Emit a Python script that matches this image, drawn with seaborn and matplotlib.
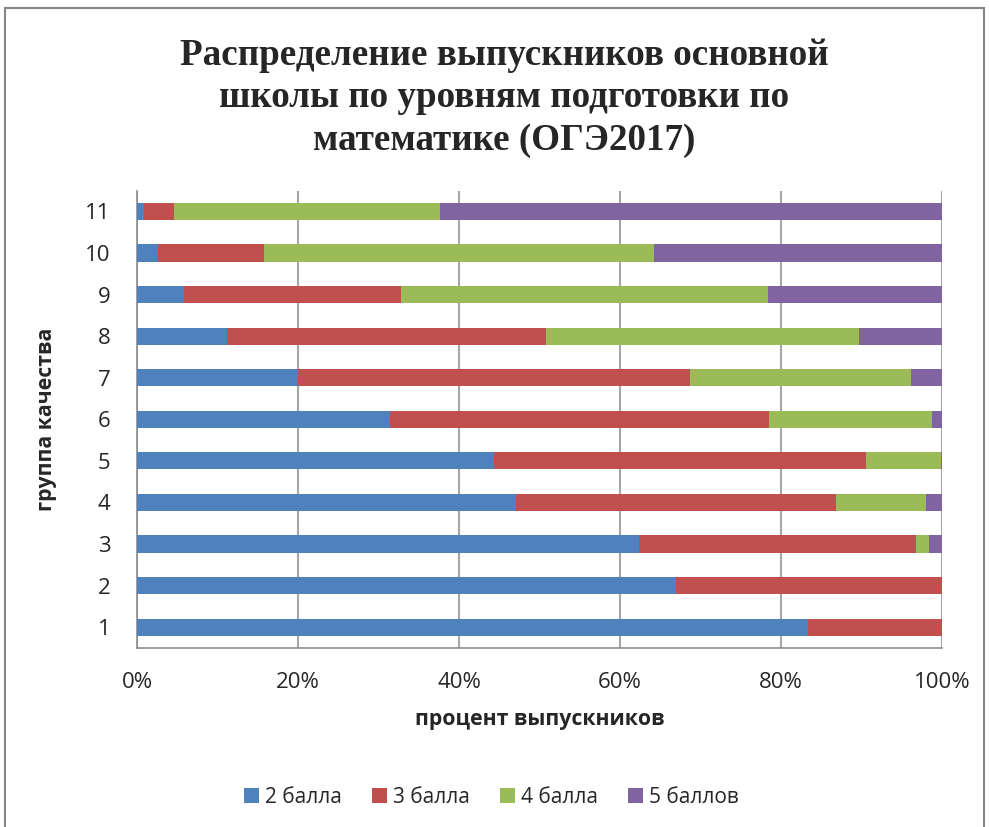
import numpy as np
import pandas as pd
import matplotlib
matplotlib.use("Agg")
import matplotlib.pyplot as plt
import seaborn as sns
from matplotlib.patches import Rectangle, Patch

# Data (percent of graduates per quality group)
groups = ["1", "2", "3", "4", "5", "6", "7", "8", "9", "10", "11"]
ball2 = [83.3, 66.9, 62.4, 47.1, 44.3, 31.4, 20.0, 11.2, 5.8, 2.6, 0.9]
ball3 = [16.7, 33.1, 34.4, 39.7, 46.3, 47.1, 48.7, 39.6, 27.0, 13.2, 3.7]
ball4 = [0.0, 0.0, 1.6, 11.2, 9.25, 20.3, 27.4, 38.9, 45.6, 48.4, 33.0]
ball5 = [0.0, 0.0, 1.6, 2.0, 0.15, 1.2, 3.9, 10.3, 21.6, 35.8, 62.4]
series = ["2 балла", "3 балла", "4 балла", "5 баллов"]
colors = ["#4F81BD", "#C0504D", "#9BBB59", "#8064A2"]

df = pd.DataFrame({"group": groups, series[0]: ball2, series[1]: ball3,
                   series[2]: ball4, series[3]: ball5})
# normalise each row to 100% like a 100% stacked bar
vals = df[series]
vals = vals.div(vals.sum(axis=1), axis=0) * 100
cum = vals.cumsum(axis=1)
cum["group"] = df["group"]

sns.set_style("white")
plt.rcParams["font.family"] = ["Open Sans", "DejaVu Sans"]

fig = plt.figure(figsize=(9.89, 8.27), dpi=100)
ax = fig.add_axes([0.1385, 0.2165, 0.814, 0.553])

order = groups[::-1]
# draw cumulative totals back to front so each segment shows its own part
for name, col in reversed(list(zip(series, colors))):
    sns.barplot(data=cum, x=name, y="group", order=order, color=col,
                width=0.41, orient="h", ax=ax, saturation=1, linewidth=0,
                zorder=3)

ax.set_xlim(0, 100)
ax.set_ylim(len(groups) - 0.5, -0.5)
ax.set_xticks(np.arange(0, 101, 20))
ax.set_xticklabels([f"{t}%" for t in range(0, 101, 20)], fontsize=16)
ax.tick_params(axis="y", labelsize=16, length=0, pad=19)
ax.tick_params(axis="x", length=6, color="#8C8C8C", pad=11, direction="out")
ax.set_yticks(np.arange(-0.5, len(groups)), minor=True)
ax.tick_params(axis="y", which="minor", length=6, color="#8C8C8C", direction="out")
ax.xaxis.grid(True, color="#A6A6A6", linewidth=1.5, zorder=0)
ax.set_axisbelow(True)
for s in ["top", "right"]:
    ax.spines[s].set_visible(False)
for s in ["left", "bottom"]:
    ax.spines[s].set_color("#8C8C8C")
    ax.spines[s].set_linewidth(1.2)

ax.set_xlabel("процент выпускников", fontsize=15.3, fontweight="bold", labelpad=12)
ax.set_ylabel("группа качества", fontsize=15.3, fontweight="bold", labelpad=20)

fig.text(0.51, 0.8815, "Распределение выпускников основной\nшколы по уровням подготовки по\nматематике (ОГЭ2017)",
         ha="center", va="center", fontsize=26.7, fontweight="bold",
         family="Liberation Serif", linespacing=1.26)

handles = [Patch(facecolor=c, edgecolor="none") for c in colors]
fig.legend(handles, series, loc="center", bbox_to_anchor=(0.497, 0.036),
           ncol=4, frameon=False, fontsize=15, handlelength=0.7,
           handleheight=0.7, handletextpad=0.3, columnspacing=1.45)

# outer chart frame
fig.patches.append(Rectangle((0.005, -0.01), 0.99, 1.0, transform=fig.transFigure,
                             fill=False, edgecolor="#868686", linewidth=1.5))

fig.savefig("out.png", dpi=100)
